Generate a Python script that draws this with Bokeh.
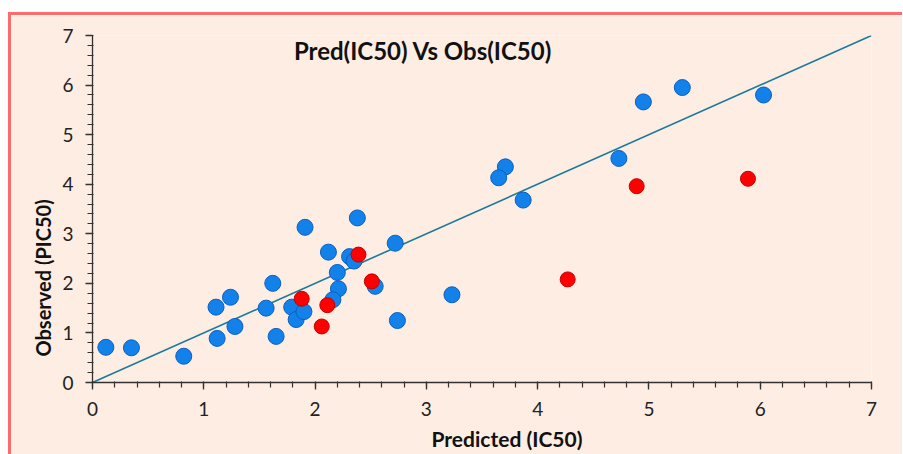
from bokeh.plotting import figure
from bokeh.models import Range1d, SingleIntervalTicker, Label, Title
from bokeh.embed import file_html
from bokeh.resources import INLINE

# Training set (blue)
train_pred = [0.12, 0.35, 0.82, 1.11, 1.24, 1.12, 1.28, 1.56, 1.62, 1.65, 1.79, 1.83, 1.90,
              1.91, 2.38, 2.12, 2.31, 2.35, 2.20, 2.72, 2.21, 2.16, 2.54, 2.74, 3.23,
              3.71, 3.65, 3.87, 4.73, 4.95, 5.30, 6.03]
train_obs = [0.71, 0.70, 0.53, 1.52, 1.72, 0.89, 1.13, 1.50, 2.00, 0.93, 1.52, 1.27, 1.43,
             3.13, 3.32, 2.63, 2.54, 2.45, 2.22, 2.81, 1.89, 1.67, 1.94, 1.25, 1.77,
             4.35, 4.13, 3.68, 4.52, 5.66, 5.95, 5.80]

# Test set (red)
test_pred = [1.88, 2.11, 2.06, 2.39, 2.51, 4.27, 4.89, 5.89]
test_obs = [1.69, 1.56, 1.13, 2.58, 2.04, 2.08, 3.96, 4.11]

# Identity line
line_x = [0, 7]
line_y = [0, 7]

BG = "#fdede3"
FONT = "Lato"

p = figure(output_backend="svg", toolbar_location=None,
           frame_width=779, frame_height=347,
           min_border_left=81, min_border_right=31,
           min_border_top=20, min_border_bottom=71,
           x_range=Range1d(0, 7), y_range=Range1d(0, 7))
p.styles = {"border-left": "3px solid #ff6b6b", "border-top": "3px solid #ff6b6b",
            "margin-top": "12px", "margin-left": "8px"}

p.background_fill_color = BG
p.border_fill_color = BG
p.outline_line_color = None
p.xgrid.visible = False
p.ygrid.visible = False

for ax in (p.xaxis[0], p.yaxis[0]):
    ax.ticker = SingleIntervalTicker(interval=1, num_minor_ticks=5)
    ax.axis_line_color = "#333333"
    ax.axis_line_width = 1.3
    ax.major_tick_line_color = "#333333"
    ax.minor_tick_line_color = "#333333"
    ax.major_tick_line_width = 1.3
    ax.minor_tick_line_width = 1.2
    ax.major_tick_out = 7
    ax.major_tick_in = 0
    ax.minor_tick_out = 5
    ax.minor_tick_in = 1
    ax.major_label_text_font = FONT
    ax.major_label_text_font_size = "19px"
    ax.major_label_text_color = "#222222"

p.xaxis.major_label_standoff = 12
p.yaxis.major_label_standoff = 12

p.line(line_x, line_y, line_color="#1b7a9c", line_width=1.6)

p.scatter(train_pred, train_obs, size=16, fill_color="#1282ea",
          line_color="#0b5fc0", line_width=1)
p.scatter(test_pred, test_obs, size=15, fill_color="#ff0000",
          line_color="#c40000", line_width=1)

p.add_layout(Label(x=2.97, y=6.70, text="Pred(IC50) Vs Obs(IC50)",
                   text_align="center", text_baseline="middle",
                   text_font=FONT, text_font_size="24px",
                   text_font_style="bold", text_color="#111111"))

# Axis titles (placed off-centre as in the original)
p.add_layout(Title(text="Predicted (IC50)", align="left", offset=339,
                   text_font=FONT, text_font_size="21px",
                   text_font_style="bold", text_color="#111111"), "below")
p.add_layout(Title(text="Observed  (PIC50)", align="left", offset=26,
                   text_font=FONT, text_font_size="20px",
                   text_font_style="bold", text_color="#111111"), "left")

open("out.html", "w").write(file_html(p, INLINE))
